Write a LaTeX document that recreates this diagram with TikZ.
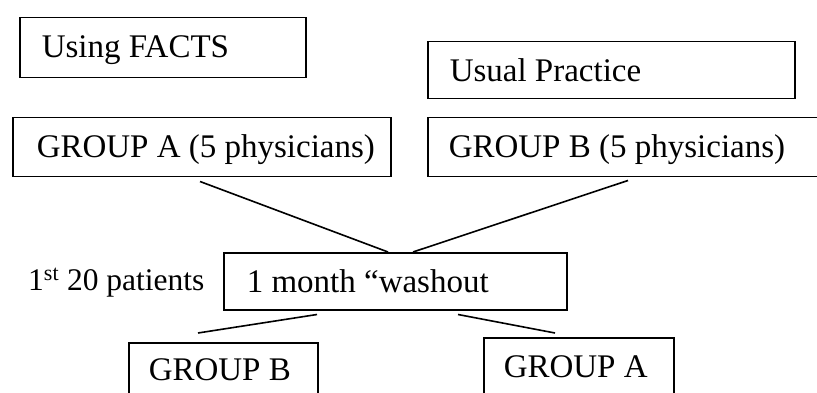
\documentclass[tikz,border=0pt]{standalone}
\usepackage{fontspec}
\setmainfont{Liberation Serif}
\newcommand{\bxtext}[2]{\makebox[#1pt][l]{#2}}
\begin{document}
\begin{tikzpicture}[x=1pt,y=-1pt,
  bx/.style={draw, line width=1.5pt, anchor=north west,
    inner xsep=22pt, inner ysep=0pt, text height=40pt,
    font=\fontsize{33}{37}\selectfont},
  conn/.style={line width=1.6pt}]
\useasboundingbox (0,0) rectangle (817,393);
\clip (0,0) rectangle (817,393);
\node[bx, text depth=20pt] (facts) at (19,17) {\bxtext{242}{Using FACTS}};
\node[bx, text depth=17pt] (usual) at (427,41) {\bxtext{323}{Usual Practice}};
\node[bx, inner xsep=24pt, text depth=19pt] (grpA) at (12,117) {\bxtext{330}{GROUP A (5 physicians)}};
\node[bx, inner xsep=21pt, text depth=19pt] (grpB) at (427,117) {\bxtext{351}{GROUP B (5 physicians)}};
\node[bx, inner xsep=23pt, text depth=17pt] (wash) at (223,252) {\bxtext{297}{1 month \textquotedblleft washout}};
\node[anchor=base west, inner sep=0pt, font=\fontsize{31.5}{36}\selectfont] (pat) at (28,290) {1\textsuperscript{st} 20 patients};
\node[bx, inner xsep=20pt, text height=38pt, text depth=60pt] (botB) at (128,342) {\bxtext{149}{GROUP B}};
\node[bx, inner xsep=20pt, text height=40pt, text depth=60pt] (botA) at (483,337) {\bxtext{150}{GROUP A}};
\draw[conn] ([xshift=188pt,yshift=-4pt]grpA.south west) -- ([xshift=165pt]wash.north west);
\draw[conn] ([xshift=201pt,yshift=-3pt]grpB.south west) -- ([xshift=190pt]wash.north west);
\draw[conn] ([xshift=94pt,yshift=-4pt]wash.south west) -- ([xshift=70pt,yshift=9pt]botB.north west);
\draw[conn] ([xshift=235pt,yshift=-4pt]wash.south west) -- ([xshift=72pt,yshift=4pt]botA.north west);
\end{tikzpicture}
\end{document}
